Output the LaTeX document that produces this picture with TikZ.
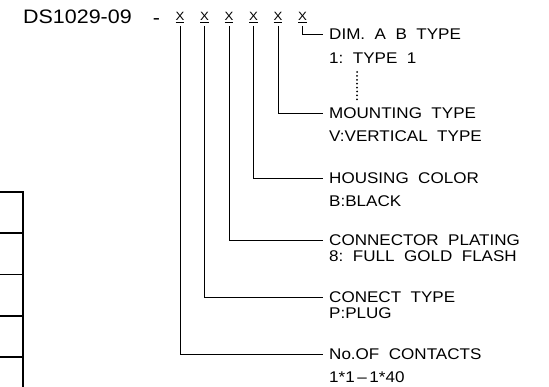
\documentclass[tikz,border=0pt]{standalone}
\usepackage{fontspec}
\setmainfont{Liberation Sans}[FakeStretch=1.1]
\begin{document}
\begin{tikzpicture}[x=1pt, y=-1pt,
  head/.style={anchor=west, inner xsep=6pt, inner ysep=0pt, font=\fontsize{15.5}{18}\selectfont},
  code/.style={anchor=base, inner xsep=0pt, inner ysep=3pt, font=\fontsize{12}{14}\selectfont},
  leader/.style={line width=0.6pt},
  frame/.style={line width=1.2pt}
]
\useasboundingbox (0,0) rectangle (549,387);
% part number with its code letters
\node[anchor=base west, inner sep=0pt, font=\fontsize{19.5}{22}\selectfont] (part) at (23,23.3) {DS1029-09};
\node[anchor=base, inner sep=0pt, font=\fontsize{19.5}{22}\selectfont] (dash) at (156.5,24.5) {-};
\node[code] (x1) at (180,20.8) {\underline{X}};
\node[code] (x2) at (204.5,20.8) {\underline{X}};
\node[code] (x3) at (229,20.8) {\underline{X}};
\node[code] (x4) at (253.5,20.8) {\underline{X}};
\node[code] (x5) at (278,20.8) {\underline{X}};
\node[code] (x6) at (302.5,20.8) {\underline{X}};
% explanations
\node[head] (dimhead) at (323,34) {DIM.~~A~~B~~TYPE};
\node[head] (dimval) at (323,58) {1:~~TYPE~~1};
\node[head] (mounthead) at (323,113) {MOUNTING~~TYPE};
\node[head] (mountval) at (323,136) {V:VERTICAL~~TYPE};
\node[head] (houshead) at (323,178) {HOUSING~~COLOR};
\node[head] (housval) at (323,201) {B:BLACK};
\node[head] (platehead) at (323,240) {CONNECTOR~~PLATING};
\node[head] (plateval) at (323,256) {8:~~FULL~~GOLD~~FLASH};
\node[head] (conhead) at (323,297) {CONECT~~TYPE};
\node[head] (conval) at (323,313) {P:PLUG};
\node[head] (conthead) at (323,354) {No.OF~~CONTACTS};
\node[head] (contval) at (323,377) {1*1\,--\,1*40};
\draw[line width=2pt, line cap=round, dash pattern=on 0pt off 3.9pt] (357,72) -- (357,100);
% leaders
\draw[leader] (x6.south) |- (dimhead.west);
\draw[leader] (x5.south) |- (mounthead.west);
\draw[leader] (x4.south) |- (houshead.west);
\draw[leader] (x3.south) |- (platehead.west);
\draw[leader] (x2.south) |- (conhead.west);
\draw[leader] (x1.south) |- (conthead.west);
% table edge at left
\draw[frame] (0,192) -- (23,192) -- (23,387);
\draw[frame] (0,233) -- (23,233);
\draw[frame] (0,274.5) -- (23,274.5);
\draw[frame] (0,316) -- (23,316);
\draw[frame] (0,357) -- (23,357);
\end{tikzpicture}
\end{document}
